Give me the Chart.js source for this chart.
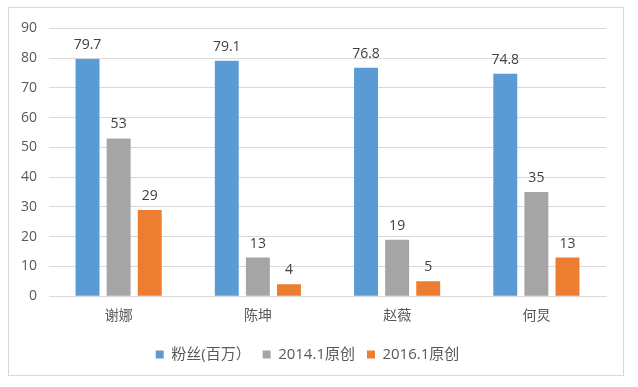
<!DOCTYPE html>
<html>
<head>
<meta charset="utf-8">
<script src="https://cdn.jsdelivr.net/npm/chart.js@4"></script>
<style>
  body { margin: 0; background: #fff; }
  #box {
    position: absolute; left: 8px; top: 7px;
    width: 614px; height: 367px;
    border: 1px solid #d9d9d9;
  }
</style>
</head>
<body>
<div id="box"><canvas id="chart"></canvas></div>
<script>
// 数据
const categories = ['谢娜', '陈坤', '赵薇', '何炅'];
const fans = [79.7, 79.1, 76.8, 74.8];
const original2014 = [53, 13, 19, 35];
const original2016 = [29, 4, 5, 13];
const yTicks = [0, 10, 20, 30, 40, 50, 60, 70, 80, 90];

const FONT = '"Open Sans", "Noto Sans CJK SC", sans-serif';

// 在柱子上方画数值
const valueLabels = {
    id: 'valueLabels',
    afterDatasetsDraw(chart) {
        const ctx = chart.ctx;
        ctx.save();
        ctx.font = '14px ' + FONT;
        ctx.fillStyle = '#404040';
        ctx.textAlign = 'center';
        ctx.textBaseline = 'bottom';
        chart.data.datasets.forEach((ds, i) => {
            chart.getDatasetMeta(i).data.forEach((bar, j) => {
                ctx.fillText(ds.data[j], bar.x, bar.y - 7);
            });
        });
        ctx.restore();
    }
};

function createChart() {
    const ctx = document.getElementById('chart').getContext('2d');
    new Chart(ctx, {
        type: 'bar',
        data: {
            labels: categories,
            datasets: [
                { label: '粉丝(百万）', data: fans, backgroundColor: '#5b9bd5' },
                { label: '2014.1原创', data: original2014, backgroundColor: '#a5a5a5' },
                { label: '2016.1原创', data: original2016, backgroundColor: '#ed7d31' }
            ]
        },
        options: {
            responsive: true,
            maintainAspectRatio: false,
            animation: false,
            categoryPercentage: 0.67,
            barPercentage: 0.77,
            layout: { padding: { top: 17, right: 17, left: 0, bottom: 3 } },
            plugins: {
                tooltip: { enabled: false },
                legend: {
                    position: 'bottom',
                    labels: {
                        boxWidth: 8, boxHeight: 8,
                        color: '#595959',
                        font: { size: 15, family: FONT },
                        padding: 12
                    }
                }
            },
            scales: {
                x: {
                    afterFit: s => { s.height += 8; },
                    grid: { display: false },
                    border: { color: '#d9d9d9' },
                    ticks: { color: '#595959', font: { size: 14, family: FONT }, padding: 3 }
                },
                y: {
                    min: 0, max: 90,
                    afterFit: s => { s.width = 40; },
                    afterBuildTicks: s => { s.ticks = yTicks.map(v => ({ value: v })); },
                    grid: { color: '#d9d9d9', drawTicks: false },
                    border: { display: false },
                    ticks: { color: '#595959', font: { size: 14, family: FONT }, padding: 12 }
                }
            }
        },
        plugins: [valueLabels]
    });
}

document.addEventListener('DOMContentLoaded', createChart);
</script>
</body>
</html>
